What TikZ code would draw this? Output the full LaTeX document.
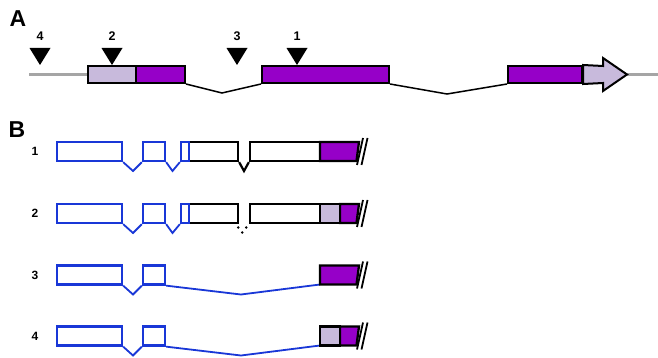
\documentclass[tikz,border=0pt]{standalone}
\usepackage{fontspec}
\setmainfont{Liberation Sans}
\definecolor{purp}{RGB}{150,0,200}
\definecolor{lpurp}{RGB}{200,186,220}
\definecolor{exblue}{RGB}{25,55,215}
\definecolor{gline}{RGB}{165,165,165}
\tikzset{
  box/.style={draw=black, line width=2pt, rectangle, inner sep=0pt, minimum height=17pt},
  bbox/.style={draw=exblue, line width=2.3pt, rectangle, inner sep=0pt, minimum height=19pt, fill=white},
  kbox/.style={draw=black, line width=2.3pt, rectangle, inner sep=0pt, minimum height=19pt, fill=white},
  intron/.style={draw=black, line width=1.5pt},
  bintron/.style={draw=exblue, line width=1.8pt},
  panel/.style={font=\bfseries\fontsize{23}{23}\selectfont, inner sep=0pt},
  num/.style={font=\bfseries\fontsize{12}{12}\selectfont, inner sep=0pt},
  slash/.style={draw=black, line width=1.8pt},
}
\begin{document}
\begin{tikzpicture}[x=1pt,y=-1pt]
\useasboundingbox (0,0) rectangle (658,358);
% ---------- Panel A ----------
\node[panel] (A) at (18,19) {A};
\coordinate (gl) at (29,74.5);
\coordinate (gr) at (658,74.5);
\node[box, fill=lpurp, minimum width=48pt] (a1) at (112,74.5) {};
\node[box, fill=purp, minimum width=49pt] (a2) at (160.5,74.5) {};
\node[box, fill=purp, minimum width=127pt] (a3) at (325.5,74.5) {};
\node[box, fill=purp, minimum width=74pt] (a4) at (545,74.5) {};
\draw[gline, line width=3.2pt] (gl) -- (a1.west);
\coordinate (tip) at (627,74.5);
\draw[gline, line width=3.2pt] (tip) -- (gr);
\filldraw[fill=lpurp, draw=black, line width=2pt, line join=miter]
  (a4.north east) -- (603,66) -- (603,58) -- (tip) -- (603,91) -- (603,83) -- (a4.south east) -- cycle;
\coordinate (i1) at (222,93);
\coordinate (i2) at (447,94);
\draw[intron] (a2.south east) -- (i1) -- (a3.south west);
\draw[intron] (a3.south east) -- (i2) -- (a4.south west);
% triangles
\foreach \x/\l/\n in {40/4/t4, 112/2/t2, 237/3/t3, 297/1/t1}{
  \fill[black] (\x-10.5,48) -- (\x+10.5,48) -- (\x,65) -- cycle;
  \node[num, font=\bfseries\fontsize{12.5}{13}\selectfont] (\n) at (\x,36) {\l};
}
% ---------- Panel B ----------
\node[panel] (B) at (17,130) {B};
\foreach \r/\c in {1/151.5, 2/213.5, 3/275, 4/336}{
  \node[num] (lab\r) at (35,\c) {\r};
  \node[bbox, minimum width=65pt] (r\r b1) at (89.5,\c) {};
  \node[bbox, minimum width=22pt] (r\r b2) at (154,\c) {};
  \coordinate (r\r v1) at (133,\c+19.5);
  \draw[bintron] (r\r b1.south east) -- (r\r v1) -- (r\r b2.south west);
}
% rows 1 and 2: further exons
\foreach \r/\c in {1/151.5, 2/213.5}{
  \node[kbox, minimum width=49pt] (r\r k1) at (213.5,\c) {};
  \node[kbox, minimum width=70pt] (r\r k2) at (285,\c) {};
  \node[bbox, minimum width=8pt] (r\r b3) at (185,\c) {};
  \coordinate (r\r v2) at (172.5,\c+19.5);
  \draw[bintron] (r\r b2.south east) -- (r\r v2) -- (r\r b3.south west);
}
\coordinate (r1v3) at (244,171);
\draw[intron, line width=2.2pt] (r1k1.south east) -- (r1v3) -- (r1k2.south west);
\foreach \p in {(238.3,227.5),(246.3,227.5),(242.3,232.5)}{\fill[black] \p circle (1.4pt);}
% rows 3 and 4: long intron
\foreach \r/\c in {3/275, 4/336}{
  \coordinate (r\r e) at (320,\c+9.5);
  \coordinate (r\r v2) at (241,\c+19.5);
  \draw[bintron] (r\r b2.south east) -- (r\r v2) -- (r\r e);
}
% 3' ends
\foreach \r/\c in {1/151.5, 3/275}{
  \filldraw[fill=purp, draw=black, line width=2.3pt] (320,\c-9.5) -- (359,\c-9.5) -- (356.5,\c+9.5) -- (320,\c+9.5) -- cycle;
}
\foreach \r/\c in {2/213.5, 4/336}{
  \filldraw[fill=purp, draw=black, line width=2.3pt] (340,\c-9.5) -- (359,\c-9.5) -- (356.5,\c+9.5) -- (340,\c+9.5) -- cycle;
  \node[kbox, fill=lpurp, minimum width=20pt] (r\r lp) at (330,\c) {};
}
\foreach \c in {151.5, 213.5, 275, 336}{
  \draw[slash] (357,\c+13.5) -- (363,\c-13.5);
  \draw[slash] (361.5,\c+13.5) -- (367.5,\c-13.5);
}
\end{tikzpicture}
\end{document}
